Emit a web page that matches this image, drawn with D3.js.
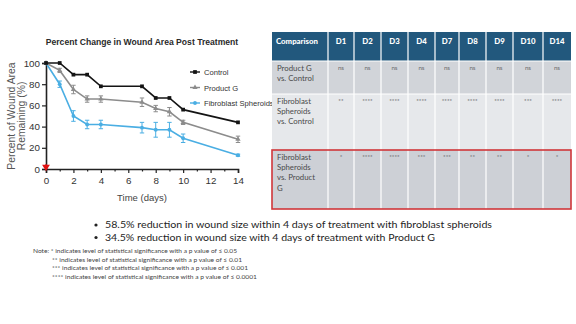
<!DOCTYPE html>
<html><head><meta charset="utf-8">
<script src="https://cdn.jsdelivr.net/npm/d3@7"></script>
<style>
html,body{margin:0;padding:0;background:#fff;}
svg{display:block;}
</style></head>
<body>
<svg id="c" width="576" height="324"></svg>
<script>
// Wound area time course (percent of initial area remaining)
const days = [0, 1, 2, 3, 4, 7, 8, 9, 10, 14];
const controlVals = [100, 100, 89, 89, 78, 78, 67, 67, 56, 44];
const productGVals = [100, 93, 75, 66, 66, 63, 57, 54, 44, 28];
const productGErr = [0, 2, 4, 3, 3, 4, 3, 4, 2, 3];
const spheroidVals = [100, 80, 50, 42, 42, 39, 37, 37, 29, 13];
const spheroidErr = [0, 3, 5, 4, 4, 5, 7, 7, 4, 1];
const seriesNames = ["Control", "Product G", "Fibroblast Spheroids"];
const yTicks = [0, 20, 40, 60, 80, 100];
const xTicks = [0, 2, 4, 6, 8, 10, 12, 14];

// Significance table
const tableHeader = ["Comparison", "D1", "D2", "D3", "D4", "D7", "D8", "D9", "D10", "D14"];
const rowLabels = [
  ["Product G", "vs. Control"],
  ["Fibroblast", "Spheroids", "vs. Control"],
  ["Fibroblast", "Spheroids", "vs. Product", "G"]
];
const rowValues = [
  ["ns", "ns", "ns", "ns", "ns", "ns", "ns", "ns", "ns"],
  ["**", "****", "****", "****", "****", "****", "****", "***", "****"],
  ["*", "****", "****", "***", "***", "**", "**", "*", "*"]
];

const bullets = [
  "58.5% reduction in wound size within 4 days of treatment with fibroblast spheroids",
  "34.5% reduction in wound size with 4 days of treatment with Product G"
];
const notes = [
  "Note: * indicates level of statistical significance with a p value of \u2264 0.05",
  "** indicates level of statistical significance with a p value of \u2264 0.01",
  "*** indicates level of statistical significance with a p value of \u2264 0.001",
  "**** indicates level of statistical significance with a p value of \u2264 0.0001"
];

const svg = d3.select("#c");
const F = "'Liberation Sans', Arial, sans-serif";

// ---------- line chart ----------
const x = d3.scaleLinear().domain([0, 14]).range([46, 238]);
const y = d3.scaleLinear().domain([0, 100]).range([169, 63]);

svg.append("text").attr("x", 142).attr("y", 45).attr("text-anchor", "middle")
  .attr("font-family", F).attr("font-size", 8.6).attr("font-weight", "bold")
  .attr("fill", "#2a2a2a").text("Percent Change in Wound Area Post Treatment");

svg.append("g").attr("transform", "translate(46,0)")
  .call(d3.axisLeft(y).tickValues(yTicks).tickSize(4).tickPadding(2));
svg.append("g").attr("transform", "translate(0,169)")
  .call(d3.axisBottom(x).tickValues(xTicks).tickSize(4).tickPadding(4));
svg.append("g").attr("transform", "translate(0,169)")
  .call(d3.axisBottom(x).tickValues(d3.range(1, 14, 2)).tickSize(2.5).tickFormat(""))
  .select(".domain").remove();
svg.selectAll(".domain").attr("stroke", "#222").attr("stroke-width", 1.6);
svg.selectAll(".tick line").attr("stroke", "#222").attr("stroke-width", 1.2);
svg.selectAll(".tick text").attr("font-family", F).attr("font-size", 9.8).attr("fill", "#333");

svg.append("text").attr("x", 142).attr("y", 201).attr("text-anchor", "middle")
  .attr("font-family", F).attr("font-size", 9.5).attr("fill", "#444").text("Time (days)");
const yl = svg.append("text").attr("transform", "translate(15,116) rotate(-90)")
  .attr("text-anchor", "middle").attr("font-family", F).attr("font-size", 10.4).attr("fill", "#555");
yl.append("tspan").attr("x", 0).attr("dy", 0).text("Percent of Wound Area");
yl.append("tspan").attr("x", 0).attr("dy", 9.5).text("Remaining (%)");

const series = [
  {name: seriesNames[0], vals: controlVals, err: null, color: "#141414", shape: d3.symbolSquare, size: 14},
  {name: seriesNames[1], vals: productGVals, err: productGErr, color: "#8c8c8c", shape: d3.symbolTriangle, size: 12},
  {name: seriesNames[2], vals: spheroidVals, err: spheroidErr, color: "#4aaee3", shape: d3.symbolCircle, size: 12}
];
const line = d3.line().x(d => x(d[0])).y(d => y(d[1]));

[...series].reverse().forEach(s => {
  const pts = days.map((d, i) => [d, s.vals[i], s.err ? s.err[i] : 0]);
  const g = svg.append("g");
  g.append("path").datum(pts).attr("d", line).attr("fill", "none")
    .attr("stroke", s.color).attr("stroke-width", 1.6);
  if (s.err) {
    pts.filter(p => p[2] > 0).forEach(p => {
      const cx = x(p[0]), t = y(p[1] + p[2]), b = y(p[1] - p[2]);
      g.append("line").attr("x1", cx).attr("x2", cx).attr("y1", t).attr("y2", b)
        .attr("stroke", s.color).attr("stroke-width", 1);
      [t, b].forEach(yy => g.append("line").attr("x1", cx - 2.2).attr("x2", cx + 2.2)
        .attr("y1", yy).attr("y2", yy).attr("stroke", s.color).attr("stroke-width", 1));
    });
  }
  g.selectAll("path.m").data(pts).join("path").attr("class", "m")
    .attr("transform", p => `translate(${x(p[0])},${y(p[1])})`)
    .attr("d", d3.symbol().type(s.shape).size(s.size)).attr("fill", s.color);
});

// baseline marker at day 0
const baseVal = 2, baseErr = 2.5;
svg.append("line").attr("x1", x(0)).attr("x2", x(0)).attr("y1", y(baseVal + baseErr)).attr("y2", y(baseVal - baseErr))
  .attr("stroke", "#e01010").attr("stroke-width", 1.4);
svg.append("path").attr("transform", `translate(${x(0)},${y(baseVal)}) rotate(180)`)
  .attr("d", d3.symbol().type(d3.symbolTriangle).size(26)).attr("fill", "#e01010");

// legend
series.forEach((s, i) => {
  const ly = 72 + i * 15.5;
  svg.append("line").attr("x1", 190).attr("x2", 200).attr("y1", ly).attr("y2", ly)
    .attr("stroke", s.color).attr("stroke-width", 1.4);
  svg.append("path").attr("transform", `translate(195,${ly})`)
    .attr("d", d3.symbol().type(s.shape).size(s.size)).attr("fill", s.color);
  svg.append("text").attr("x", 204).attr("y", ly + 3).attr("font-family", F)
    .attr("font-size", 7.6).attr("fill", "#333").text(s.name);
});

// ---------- table ----------
const TF = "Lato, 'Open Sans', sans-serif";
const colEdges = [272, 328, 354, 381, 408, 435, 459, 486, 513, 543, 571];
const rowEdges = [32, 61, 94, 150, 209];
const rowFills = ["#d1d4d9", "#e6e8eb", "#cdd0d6"];
const tbl = svg.append("g");
tbl.append("rect").attr("x", colEdges[0]).attr("y", rowEdges[0])
  .attr("width", colEdges[10] - colEdges[0]).attr("height", rowEdges[1] - rowEdges[0]).attr("fill", "#22587d");
rowFills.forEach((f, r) => tbl.append("rect").attr("x", colEdges[0]).attr("y", rowEdges[r + 1])
  .attr("width", colEdges[10] - colEdges[0]).attr("height", rowEdges[r + 2] - rowEdges[r + 1]).attr("fill", f));
// column separators
colEdges.slice(1, 10).forEach(cx => tbl.append("line").attr("x1", cx).attr("x2", cx)
  .attr("y1", rowEdges[0]).attr("y2", rowEdges[4]).attr("stroke", "#fff").attr("stroke-width", 1.2));
rowEdges.slice(1, 3).forEach(ry => tbl.append("line").attr("x1", colEdges[0]).attr("x2", colEdges[10])
  .attr("y1", ry).attr("y2", ry).attr("stroke", "#fff").attr("stroke-width", 1));

tableHeader.forEach((h, i) => {
  const cx = i === 0 ? colEdges[0] + 4 : (colEdges[i] + colEdges[i + 1]) / 2;
  tbl.append("text").attr("x", cx).attr("y", 43.5).attr("text-anchor", i === 0 ? "start" : "middle")
    .attr("font-family", TF).attr("font-size", 7.8).attr("font-weight", "900").attr("fill", "#fff").text(h);
});
rowLabels.forEach((lines, r) => {
  const top = rowEdges[r + 1];
  lines.forEach((t, k) => tbl.append("text").attr("x", colEdges[0] + 5).attr("y", top + 10 + k * 10.2)
    .attr("font-family", TF).attr("font-size", 7.8).attr("fill", "#4a4a4a").text(t));
  rowValues[r].forEach((v, c) => tbl.append("text").attr("x", (colEdges[c + 1] + colEdges[c + 2]) / 2)
    .attr("y", top + 9).attr("text-anchor", "middle").attr("font-family", TF).attr("font-size", 6.2)
    .attr("fill", "#6a6a6a").text(v));
});
tbl.append("rect").attr("x", colEdges[0]).attr("y", rowEdges[3])
  .attr("width", colEdges[10] - colEdges[0]).attr("height", rowEdges[4] - rowEdges[3])
  .attr("fill", "none").attr("stroke", "#d0363a").attr("stroke-width", 1.6);

// ---------- bullets ----------
const BF = "Lato, 'Open Sans', sans-serif";
const bulletWidths = [387, 330];
bullets.forEach((b, i) => {
  const by = 228 + i * 12.5;
  svg.append("circle").attr("cx", 96).attr("cy", by - 3).attr("r", 1.6).attr("fill", "#222");
  svg.append("text").attr("x", 105).attr("y", by).attr("font-family", BF).attr("font-size", 9.6)
    .attr("fill", "#1e1e1e").attr("textLength", bulletWidths[i]).attr("lengthAdjust", "spacingAndGlyphs").text(b);
});

// ---------- notes ----------
const noteWidths = [204, 190, 196, 205];
notes.forEach((n, i) => {
  svg.append("text").attr("x", i === 0 ? 33 : 52).attr("y", 253 + i * 8.5).attr("font-family", BF)
    .attr("font-size", 5.6).attr("fill", "#444")
    .attr("textLength", noteWidths[i]).attr("lengthAdjust", "spacingAndGlyphs").text(n);
});
</script>
</body></html>
